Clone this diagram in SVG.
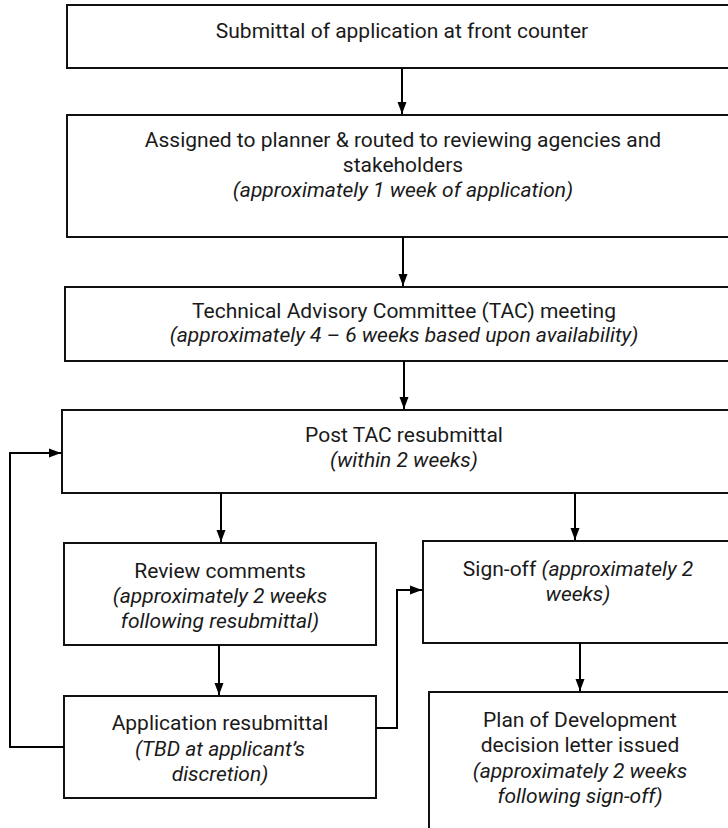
<svg xmlns="http://www.w3.org/2000/svg" width="728" height="828" viewBox="0 0 728 828">
<defs>
<marker id="ah" markerUnits="userSpaceOnUse" markerWidth="12" markerHeight="12" viewBox="0 0 12 12" refX="12" refY="6" orient="auto">
<path d="M0,1.5 L12,6 L0,10.5 Z" fill="#000"/>
</marker>
<style>
.box{fill:#fff;stroke:#111;stroke-width:2}
.t{font-family:Roboto,"Liberation Sans",sans-serif;font-size:21px;fill:#1a1a1a;text-anchor:middle}
.i{font-style:italic}
.c{fill:none;stroke:#000;stroke-width:2;marker-end:url(#ah)}
</style>
</defs>
<rect width="728" height="828" fill="#fff"/>
<g id="n1">
<rect class="box" x="67" y="5" width="680" height="63"/>
<text class="t" x="402" y="38">Submittal of application at front counter</text>
</g>
<g id="n2">
<rect class="box" x="67" y="115" width="680" height="122"/>
<text class="t" x="403" y="147">Assigned to planner &amp; routed to reviewing agencies and</text>
<text class="t" x="403" y="172">stakeholders</text>
<text class="t i" x="403" y="197">(approximately 1 week of application)</text>
</g>
<g id="n3">
<rect class="box" x="65" y="287" width="680" height="74"/>
<text class="t" x="404" y="318">Technical Advisory Committee (TAC) meeting</text>
<text class="t i" x="404" y="342">(approximately 4 – 6 weeks based upon availability)</text>
</g>
<g id="n4">
<rect class="box" x="62" y="410" width="685" height="83"/>
<text class="t" x="404" y="442">Post TAC resubmittal</text>
<text class="t i" x="404" y="467">(within 2 weeks)</text>
</g>
<g id="n5">
<rect class="box" x="64" y="543" width="312" height="102"/>
<text class="t" x="220" y="578">Review comments</text>
<text class="t i" x="220" y="603">(approximately 2 weeks</text>
<text class="t i" x="220" y="628">following resubmittal)</text>
</g>
<g id="n6">
<rect class="box" x="423" y="541" width="320" height="102"/>
<text class="t" x="578" y="576">Sign-off <tspan class="i">(approximately 2</tspan></text>
<text class="t i" x="578" y="601">weeks)</text>
</g>
<g id="n7">
<rect class="box" x="64" y="696" width="312" height="102"/>
<text class="t" x="220" y="730">Application resubmittal</text>
<text class="t i" x="220" y="756">(TBD at applicant’s</text>
<text class="t i" x="220" y="781">discretion)</text>
</g>
<g id="n8">
<rect class="box" x="429" y="692" width="320" height="150"/>
<text class="t" x="580" y="727">Plan of Development</text>
<text class="t" x="580" y="752">decision letter issued</text>
<text class="t i" x="580" y="778">(approximately 2 weeks</text>
<text class="t i" x="580" y="803">following sign-off)</text>
</g>
<g id="connectors">
<path class="c" d="M402,68 V114"/>
<path class="c" d="M403,237 V286"/>
<path class="c" d="M404,361 V409"/>
<path class="c" d="M221,493 V542"/>
<path class="c" d="M575,493 V540"/>
<path class="c" d="M219,645 V695"/>
<path class="c" d="M580,643 V691"/>
<path class="c" d="M64,747 H10 V453 H61"/>
<path class="c" d="M376,728 H397 V590 H422"/>
</g>
</svg>
